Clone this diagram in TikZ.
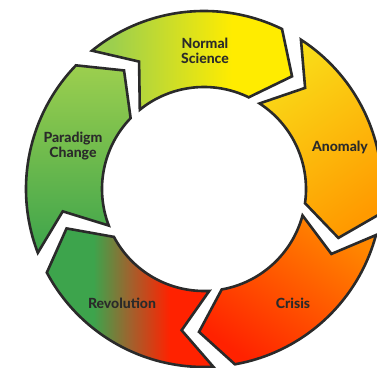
\documentclass[tikz,border=0pt]{standalone}
\usepackage{fontspec}
\setmainfont{Lato}[BoldFont={Lato Heavy}]
\definecolor{edge}{HTML}{2A2A2A}
\definecolor{lightgreen}{HTML}{9CCF4E}
\definecolor{darkgreen}{HTML}{3DA44C}
\definecolor{brightyellow}{HTML}{FFEC00}
\definecolor{deepyellow}{HTML}{F9DC18}
\definecolor{brightorange}{HTML}{FF9A00}
\definecolor{hotred}{HTML}{FF2200}
\definecolor{rust}{HTML}{A0622E}
\pgfdeclarehorizontalshading{sciencefill}{100bp}{color(0bp)=(lightgreen); color(30bp)=(lightgreen);
  color(45bp)=(brightyellow!50!lightgreen); color(60bp)=(brightyellow); color(100bp)=(brightyellow)}
\pgfdeclarehorizontalshading{revolutionfill}{100bp}{color(0bp)=(darkgreen); color(39bp)=(darkgreen);
  color(50bp)=(rust); color(62bp)=(hotred); color(100bp)=(hotred)}
\tikzset{
  segment/.style={draw=edge, line width=2.6pt, line join=miter},
  caption/.style={font=\fontsize{14}{15}\selectfont\bfseries, text=edge, align=center}
}
\begin{document}
\begin{tikzpicture}[x=1pt,y=1pt]
    \useasboundingbox (0,0) rectangle (377,367);
    \begin{scope}[shift={(204,178)}]
        % Normal Science
        \shade[segment, shading=sciencefill]
            (129:178) arc[start angle=129, end angle=64, radius=178] -- (52:143) -- (64:102)
            arc[start angle=64, end angle=129, radius=102] -- (117:143) -- cycle;
        % Anomaly
        \shade[segment, top color=deepyellow, bottom color=brightorange, shading angle=35]
            (57:178) arc[start angle=57, end angle=-8, radius=178] -- (-20:143) -- (-8:102)
            arc[start angle=-8, end angle=57, radius=102] -- (45:143) -- cycle;
        % Crisis
        \shade[segment, top color=brightorange!85!hotred, bottom color=hotred, shading angle=-35]
            (-15:178) arc[start angle=-15, end angle=-80, radius=178] -- (-92:143) -- (-80:102)
            arc[start angle=-80, end angle=-15, radius=102] -- (-27:143) -- cycle;
        % Revolution
        \shade[segment, shading=revolutionfill]
            (-87:178) arc[start angle=-87, end angle=-152, radius=178] -- (-164:143) -- (-152:102)
            arc[start angle=-152, end angle=-87, radius=102] -- (-99:143) -- cycle;
        % Paradigm Change
        \shade[segment, top color=lightgreen, bottom color=darkgreen]
            (201:178) arc[start angle=201, end angle=136, radius=178] -- (124:143) -- (136:102)
            arc[start angle=136, end angle=201, radius=102] -- (189:143) -- cycle;
    \end{scope}
    % labels
    \node[caption] (normal) at (205,316) {Normal\\Science};
    \node[caption] (anomaly) at (340,220) {Anomaly};
    \node[caption] (crisis) at (293,64) {Crisis};
    \node[caption] (revolution) at (122,64) {Revolution};
    \node[caption] (paradigm) at (73,221) {Paradigm\\Change};
\end{tikzpicture}
\end{document}
